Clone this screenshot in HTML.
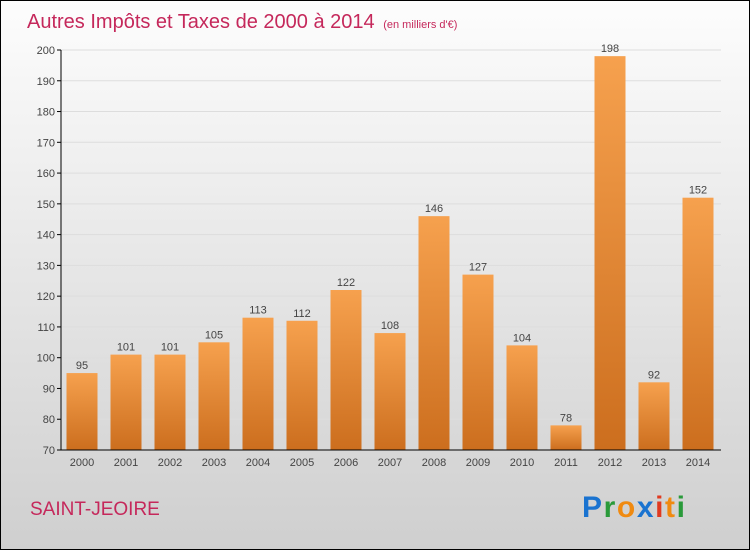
<!DOCTYPE html>
<html><head><meta charset="utf-8"><style>
body{margin:0;width:750px;height:550px;overflow:hidden}
svg text{font-family:"Liberation Sans",sans-serif}
</style></head><body>
<svg id="chart" width="750" height="550" xmlns="http://www.w3.org/2000/svg">
<defs>
<linearGradient id="bg" x1="0" y1="0" x2="0" y2="1"><stop offset="0" stop-color="#fdfdfd"/><stop offset="1" stop-color="#cfcfcf"/></linearGradient>
<linearGradient id="bar" x1="0" y1="0" x2="0" y2="1"><stop offset="0" stop-color="#f6a14e"/><stop offset="1" stop-color="#cc6e1e"/></linearGradient>
</defs>
<rect x="0.5" y="0.5" width="749" height="549" fill="url(#bg)" stroke="#000"/>
<text x="27" y="28" font-size="20" fill="#c5285b">Autres Impôts et Taxes de 2000 à 2014 <tspan font-size="11" dx="3">(en milliers d'€)</tspan></text>
<g id="grid"></g><g id="bars"></g><g id="axes"></g>
<text x="30" y="515" font-size="19" fill="#c5285b">SAINT-JEOIRE</text>
<g font-size="30" font-weight="bold">
<text x="582" y="517" textLength="103"><tspan fill="#1a73d0">P</tspan><tspan fill="#2a9a3a">r</tspan><tspan fill="#f08a10">o</tspan><tspan fill="#1a73d0">x</tspan><tspan fill="#e03a20">i</tspan><tspan fill="#f08a10">t</tspan><tspan fill="#2a9a3a">i</tspan></text>
</g>
</svg>
<script>
const categories=["2000","2001","2002","2003","2004","2005","2006","2007","2008","2009","2010","2011","2012","2013","2014"];
const values=[95,101,101,105,113,112,122,108,146,127,104,78,198,92,152];
const ticks=[70,80,90,100,110,120,130,140,150,160,170,180,190,200];
const NS="http://www.w3.org/2000/svg";
const y=v=>450-(v-70)*400/130;
const x=i=>82+i*44;
function mk(p,t,a){const e=document.createElementNS(NS,t);for(const k in a)e.setAttribute(k,a[k]);document.getElementById(p).appendChild(e);return e;}
ticks.forEach(t=>{
 const g=mk('grid','line',{x1:61,x2:721,y1:y(t),y2:y(t),stroke:'#dddddd'});
 
 
 const k=mk('axes','line',{x1:57,x2:61,y1:y(t),y2:y(t),stroke:'#000'});
 
 
 const l=mk('axes','text',{x:55,y:y(t)+4,'text-anchor':'end','font-size':11,fill:'#444'});
 l.textContent=t;
 
 
});
values.forEach((v,i)=>{
 const b=mk('bars','rect',{x:x(i)-15.5,y:y(v),width:31,height:450-y(v),fill:'url(#bar)'});
 
 
 const t=mk('bars','text',{x:x(i),y:y(v)-4,'text-anchor':'middle','font-size':11,fill:'#444'});
 t.textContent=v;
 
 
 const c=mk('axes','text',{x:x(i),y:466,'text-anchor':'middle','font-size':11,fill:'#444'});
 c.textContent=categories[i];
 
 
});
const ya=mk('axes','line',{x1:61,x2:61,y1:50,y2:450,stroke:'#000'});


const xa=mk('axes','line',{x1:61,x2:721,y1:450,y2:450,stroke:'#000'});


</script>
</body></html>
